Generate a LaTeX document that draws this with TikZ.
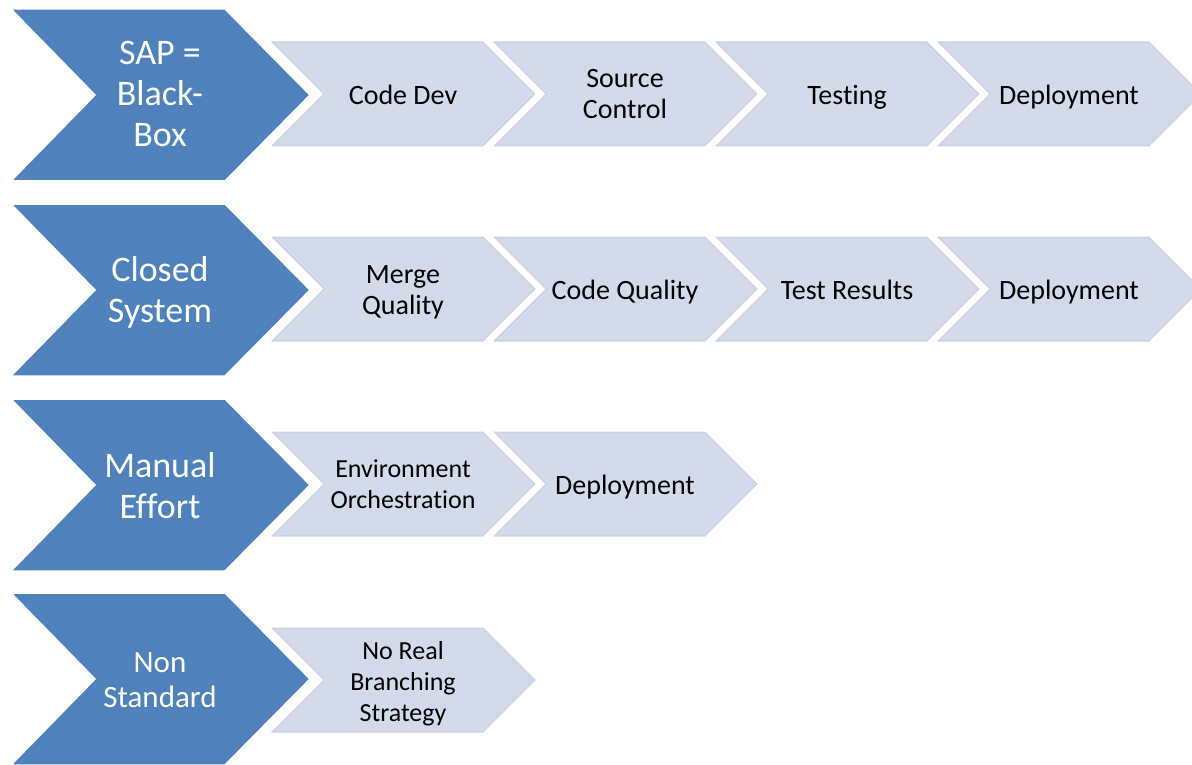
\documentclass[tikz,border=0pt]{standalone}
\usepackage{fontspec}
\setmainfont[Ligatures=NoCommon]{Carlito}
\definecolor{cblue}{RGB}{79,129,189}
\definecolor{clight}{RGB}{211,218,234}
\definecolor{cedge}{RGB}{202,210,228}
\tikzset{
  bigchev/.style={fill=cblue,draw=white,line width=1.5pt,line join=miter},
  smallchev/.style={draw=white,line width=3pt,line join=miter},
  bigtxt/.style={text=white,align=center,inner sep=0pt,text depth=0pt,font=\fontsize{36}{41}\selectfont},
  bigtxtS/.style={text=white,align=center,inner sep=0pt,text depth=0pt,font=\fontsize{31}{35}\selectfont},
  smalltxt/.style={text=black,align=center,inner sep=0pt,text depth=0pt,font=\fontsize{28}{31}\selectfont},
  smalltxtS/.style={text=black,align=center,inner sep=0pt,text depth=0pt,font=\fontsize{26}{31}\selectfont},
}
\newcommand\mkBig[1]{%
  \path[bigchev] (11,#1-86) -- (225,#1-86) -- (310,#1) -- (225,#1+86) -- (11,#1+86) -- (95,#1) -- cycle;}
\newcommand\chevPath[2]{(#1,#2-54) -- (#1+217,#2-54) -- (#1+271,#2) -- (#1+217,#2+54) -- (#1,#2+54) -- (#1+54,#2) -- cycle}
\newcommand\mkSmall[2]{%
  \begin{scope}
    \clip \chevPath{#1}{#2};
    \fill[clight] \chevPath{#1}{#2};
    \draw[cedge,line width=6pt,line join=miter] \chevPath{#1}{#2};
  \end{scope}
  \path[smallchev] \chevPath{#1}{#2};}
\begin{document}
\begin{tikzpicture}[x=1pt,y=-1pt]
\useasboundingbox (0,0) rectangle (1192,765);
% row 1
\mkBig{95}
\node[bigtxt] (b1) at (160,94) {SAP =\\Black-\\Box};
\mkSmall{267}{94}
\mkSmall{489}{94}
\mkSmall{711}{94}
\mkSmall{933}{94}
\node[smalltxt] (r1c1) at (403,95) {Code Dev};
\node[smalltxt] (r1c2) at (625,94) {Source\\Control};
\node[smalltxt] (r1c3) at (847,95) {Testing};
\node[smalltxt] (r1c4) at (1069,95) {Deployment};
% row 2
\mkBig{290}
\node[bigtxt] (b2) at (160,290) {Closed\\System};
\mkSmall{267}{289}
\mkSmall{489}{289}
\mkSmall{711}{289}
\mkSmall{933}{289}
\node[smalltxt] (r2c1) at (403,290) {Merge\\Quality};
\node[smalltxt] (r2c2) at (625,290) {Code Quality};
\node[smalltxt] (r2c3) at (847,290) {Test Results};
\node[smalltxt] (r2c4) at (1069,290) {Deployment};
% row 3
\mkBig{485}
\node[bigtxt] (b3) at (160,485) {Manual\\Effort};
\mkSmall{267}{484}
\mkSmall{489}{484}
\node[smalltxtS] (r3c1) at (403,484) {Environment\\Orchestration};
\node[smalltxt] (r3c2) at (625,485) {Deployment};
% row 4
\mkBig{679}
\node[bigtxtS] (b4) at (160,680) {Non\\Standard};
\mkSmall{267}{680}
\node[smalltxtS] (r4c1) at (403,681) {No Real\\Branching\\Strategy};
\end{tikzpicture}
\end{document}
